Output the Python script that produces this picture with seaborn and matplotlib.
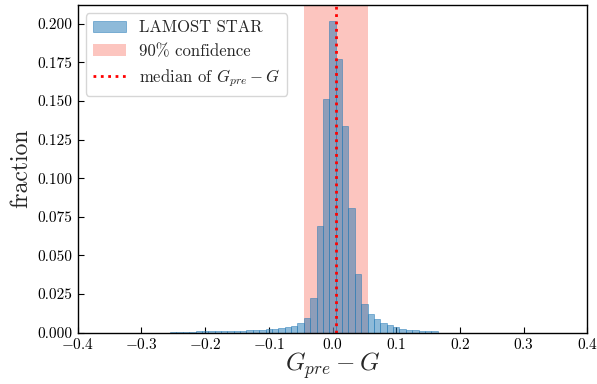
import numpy as np
import pandas as pd
import matplotlib
matplotlib.use("Agg")
import matplotlib.pyplot as plt
import seaborn as sns

# Histogram of G_pre - G: bin centres (width 0.01) and fraction per bin
bin_centers = [
    -0.25, -0.24, -0.23, -0.22, -0.21, -0.20, -0.19, -0.18, -0.17, -0.16,
    -0.15, -0.14, -0.13, -0.12, -0.11, -0.10, -0.09, -0.08, -0.07, -0.06,
    -0.05, -0.04, -0.03, -0.02, -0.01, 0.00, 0.01, 0.02, 0.03, 0.04,
    0.05, 0.06, 0.07, 0.08, 0.09, 0.10, 0.11, 0.12, 0.13, 0.14,
    0.15, 0.16,
]
fractions = [
    0.0006, 0.0006, 0.0006, 0.0006, 0.0007, 0.0007, 0.0007, 0.0007, 0.0008, 0.0008,
    0.0008, 0.0008, 0.0015, 0.0015, 0.0015, 0.0021, 0.0021, 0.0028, 0.0034, 0.0041,
    0.0060, 0.0092, 0.0227, 0.0690, 0.1513, 0.2021, 0.1770, 0.1340, 0.0806, 0.0381,
    0.0188, 0.0118, 0.0086, 0.0062, 0.0047, 0.0034, 0.0021, 0.0015, 0.0015, 0.0008,
    0.0008, 0.0008,
]
bin_width = 0.01
conf_low, conf_high = -0.045, 0.055
median_value = 0.005
x_ticks = [-0.4, -0.3, -0.2, -0.1, 0.0, 0.1, 0.2, 0.3, 0.4]
y_ticks = [0.000, 0.025, 0.050, 0.075, 0.100, 0.125, 0.150, 0.175, 0.200]

df = pd.DataFrame({"diff": bin_centers, "frac": fractions})
edges = [round(c - bin_width / 2, 4) for c in bin_centers]
edges.append(round(bin_centers[-1] + bin_width / 2, 4))

sns.set_style("ticks")
plt.rcParams.update({
    "font.family": "serif",
    "font.serif": ["cmr10", "DejaVu Serif"],
    "mathtext.fontset": "cm",
    "axes.formatter.use_mathtext": True,
    "axes.unicode_minus": True,
    "axes.edgecolor": "black",
    "axes.linewidth": 1.0,
    "xtick.direction": "in",
    "ytick.direction": "in",
    "xtick.color": "black",
    "ytick.color": "black",
    "xtick.major.size": 4,
    "ytick.major.size": 4,
    "xtick.major.pad": 3,
})

fig = plt.figure(figsize=(5.97, 3.84), dpi=100)
ax = fig.add_axes([0.130, 0.134, 0.854, 0.853])

ax.axvspan(conf_low, conf_high, color="salmon", alpha=0.45, lw=0,
           label="90% confidence")
sns.histplot(data=df, x="diff", weights="frac", bins=edges, ax=ax,
             facecolor=(0.122, 0.467, 0.706, 0.5),
             edgecolor=(0.122, 0.467, 0.706, 0.55), linewidth=0.6,
             label="LAMOST STAR")
ax.axvline(median_value, color="red", ls=":", lw=2,
           label=r"median of $G_{pre}-G$")

ax.set_xlim(-0.4, 0.4)
ax.set_xticks(x_ticks)
ax.set_yticks(y_ticks)
ax.set_yticklabels([f"{v:.3f}" for v in y_ticks])
ax.tick_params(labelsize=11)
ax.set_xlabel(r"$G_{pre}-G$", fontsize=18, labelpad=-1)
ax.set_ylabel("fraction", fontsize=17)

handles, labels = ax.get_legend_handles_labels()
order = [labels.index("LAMOST STAR"), labels.index("90% confidence"),
         labels.index(r"median of $G_{pre}-G$")]
ax.legend([handles[i] for i in order], [labels[i] for i in order],
          loc="upper left", fontsize=12)

fig.savefig("out.png", dpi=100)
